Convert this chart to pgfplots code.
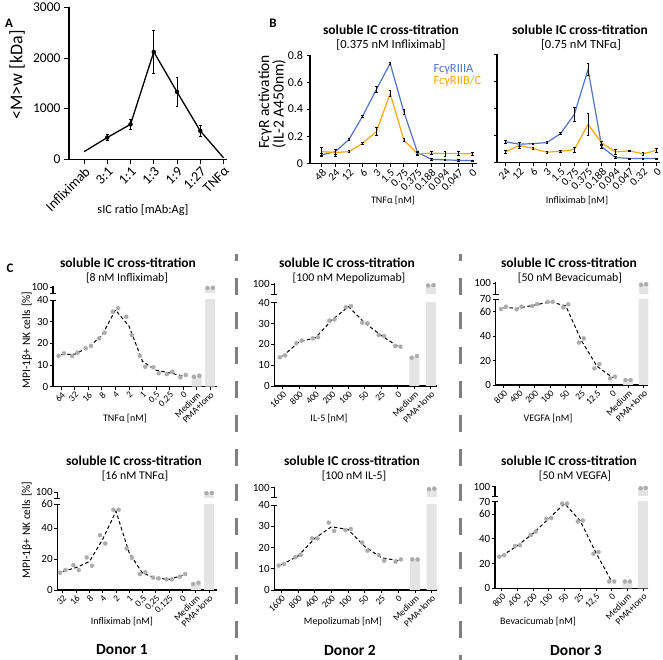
\documentclass[border=0pt]{standalone}
\usepackage{fontspec}
\setmainfont{Carlito}
\usepackage{pgfplots}
\pgfplotsset{compat=1.18}

\definecolor{fcblue}{RGB}{79,116,201}
\definecolor{fcorange}{RGB}{250,168,0}
\definecolor{dotgray}{RGB}{172,172,172}
\definecolor{bargray}{RGB}{228,228,228}
\definecolor{sepgray}{RGB}{128,128,128}
\newcommand\fs[1]{\fontsize{#1}{#1}\selectfont}

\pgfplotsset{
  panel/.style={scale only axis, anchor=south west, axis lines*=left,
    axis line style={line width=1.3pt}, tick style={black, line width=0.9pt},
    major tick length=3.5pt, tick align=outside,
    /pgf/number format/assume math mode=true, scaled ticks=false,
    x tick label style={rotate=45, anchor=north east, inner sep=1pt}},
  cpanel/.style={panel, ymin=0, major tick length=3pt,
    x tick label style={font=\fs{9.3}},
    y tick label style={font=\fs{11}, inner sep=1.5pt}},
  topbreak/.style={extra y ticks={#1}, extra y tick labels={},
    extra y tick style={tick align=center, major tick length=6pt}},
  upper/.style={scale only axis, anchor=south west, axis y line*=left, axis x line=none,
    axis line style={line width=1.3pt}, tick style={black, line width=0.9pt},
    major tick length=3pt, tick align=outside,
    ymin=90, ymax=101, ytick={100}, xtick=\empty,
    y tick label style={font=\fs{11}, inner sep=1.5pt},
    /pgf/number format/assume math mode=true,
    extra y ticks={90}, extra y tick labels={},
    extra y tick style={tick align=center, major tick length=6pt}},
  dots/.style={only marks, mark=*, mark size=2pt, dotgray, mark options={draw=none, fill=dotgray}},
  means/.style={black, line width=1pt, dash pattern=on 3.5pt off 2.5pt, mark=none},
  bars/.style={ybar, bar width=10pt, bar shift=0pt, fill=bargray, draw=none},
  ebar/.style={error bars/.cd, y dir=both, y explicit,
    error bar style={black, line width=0.6pt},
    error mark options={black, rotate=90, mark size=1.3pt, line width=0.6pt}},
}

\begin{document}
\begin{tikzpicture}
\useasboundingbox (0pt,0pt) rectangle (663pt,660pt);

% ---------------- A ----------------
\begin{axis}[panel, at={(69pt,500.7pt)}, width=158pt, height=152pt,
  xmin=-0.647, xmax=6.15, ymin=0, ymax=3000,
  ytick={0,1000,2000,3000}, yticklabels={0,1000,2000,3000},
  xtick={0,...,6}, xticklabels={Infliximab,3:1,1:1,1:3,1:9,1:27,TNFα},
  y tick label style={font=\fs{13.5}}, x tick label style={font=\fs{14}},
  major tick length=5pt]
\addplot[black, line width=1.3pt, mark=none] coordinates {
  (0,150) (1,430) (2,690) (3,2120) (4,1330) (5,560) (6,30)};
\addplot[only marks, mark=none, ebar] coordinates {
  (1,430) +- (0,65) (2,690) +- (0,100) (3,2120) +- (0,430)
  (4,1330) +- (0,285) (5,560) +- (0,110)};
\end{axis}

% ---------------- B left ----------------
\begin{axis}[panel, at={(310pt,496.7pt)}, width=167pt, height=108.3pt,
  xmin=-0.85, xmax=11.34, ymin=0, ymax=0.8,
  ytick={0,0.2,0.4,0.6,0.8}, yticklabels={0,0.2,0.4,0.6,0.8},
  xtick={0,...,11}, xticklabels={48,24,12,6,3,1.5,0.75,0.375,0.188,0.094,0.047,0},
  y tick label style={font=\fs{12}}, x tick label style={font=\fs{11}}]
\addplot[fcblue, line width=1.2pt, mark=none, ebar] coordinates {
  (0,0.062) +- (0,0.012) (1,0.086) +- (0,0.02) (2,0.177) +- (0,0.008)
  (3,0.35) +- (0,0.008) (4,0.547) +- (0,0.025) (5,0.738) +- (0,0.005)
  (6,0.38) +- (0,0.02) (7,0.08) +- (0,0.012) (8,0.03) +- (0,0.005)
  (9,0.025) +- (0,0.005) (10,0.022) +- (0,0.004) (11,0.02) +- (0,0.004)};
\addplot[fcorange, line width=1.2pt, mark=none, ebar] coordinates {
  (0,0.086) +- (0,0.03) (1,0.08) +- (0,0.025) (2,0.086) +- (0,0.008)
  (3,0.148) +- (0,0.008) (4,0.234) +- (0,0.03) (5,0.517) +- (0,0.02)
  (6,0.172) +- (0,0.012) (7,0.07) +- (0,0.01) (8,0.075) +- (0,0.012)
  (9,0.072) +- (0,0.02) (10,0.072) +- (0,0.015) (11,0.07) +- (0,0.01)};
\end{axis}

% ---------------- B right ----------------
\begin{axis}[panel, at={(497pt,497.5pt)}, width=163pt, height=108.5pt,
  xmin=-0.63, xmax=11.24, ymin=0, ymax=0.8,
  ytick={0,0.2,0.4,0.6,0.8}, yticklabels={,,,,},
  xtick={0,...,11}, xticklabels={24,12,6,3,1.5,0.75,0.375,0.188,0.094,0.047,0.32,0},
  x tick label style={font=\fs{11}}]
\addplot[fcblue, line width=1.2pt, mark=none, ebar] coordinates {
  (0,0.152) +- (0,0.01) (1,0.135) +- (0,0.012) (2,0.139) +- (0,0.005)
  (3,0.147) +- (0,0.008) (4,0.213) +- (0,0.008) (5,0.355) +- (0,0.05)
  (6,0.685) +- (0,0.045) (7,0.115) +- (0,0.012) (8,0.037) +- (0,0.005)
  (9,0.03) +- (0,0.004) (10,0.03) +- (0,0.004) (11,0.03) +- (0,0.004)};
\addplot[fcorange, line width=1.2pt, mark=none, ebar] coordinates {
  (0,0.078) +- (0,0.012) (1,0.127) +- (0,0.02) (2,0.103) +- (0,0.006)
  (3,0.076) +- (0,0.008) (4,0.083) +- (0,0.006) (5,0.095) +- (0,0.02)
  (6,0.281) +- (0,0.08) (7,0.144) +- (0,0.012) (8,0.078) +- (0,0.02)
  (9,0.086) +- (0,0.005) (10,0.064) +- (0,0.008) (11,0.09) +- (0,0.018)};
\end{axis}

% ---------------- C1: TNFa titration, Donor 1 ----------------
\begin{axis}[cpanel, at={(53pt,273.3pt)}, width=163.7pt, height=86.7pt,
  xmin=-0.61, xmax=11.48, ymax=40, ytick={0,10,20,30,40}, topbreak=40,
  xtick={0,...,11}, xticklabels={64,32,16,8,4,2,1,{0,5},{0,25},0,Medium,PMA+Iono}]
\addplot[bars] coordinates {(10,4.85) (11,99)};
\addplot[means] coordinates {(0,14.8) (1,15.0) (2,18.2) (3,23.6) (4,35.4) (5,28.0) (6,11.7) (7,7.6) (8,6.4) (9,4.9)};
\addplot[dots] coordinates {(-0.2,14.2) (0.2,15.4) (0.8,14.2) (1.2,15.7) (1.8,17.7) (2.2,18.8)
  (2.8,22.3) (3.2,24.9) (3.8,34.6) (4.2,36.2) (4.8,32.3) (5.2,23.8) (5.8,14.2) (6.2,9.2)
  (6.8,9.0) (7.2,6.2) (7.8,5.8) (8.2,6.9) (8.8,4.3) (9.2,5.4) (9.8,4.6) (10.2,5.1)};
\end{axis}
\begin{axis}[upper, at={(53pt,366.5pt)}, width=163.7pt, height=7pt, xmin=-0.61, xmax=11.48]
\addplot[bars] coordinates {(11,99)};
\addplot[dots] coordinates {(10.8,98.5) (11.2,99)};
\end{axis}

% ---------------- C2: IL-5 titration, Donor 2 ----------------
\begin{axis}[cpanel, at={(274.3pt,274pt)}, width=162.4pt, height=83.3pt,
  xmin=-0.5, xmax=9.36, ymax=40, ytick={0,10,20,30,40}, topbreak=40,
  xtick={0,...,9}, xticklabels={1600,800,400,200,100,50,25,0,Medium,PMA+Iono}]
\addplot[bars] coordinates {(8,14) (9,99)};
\addplot[means] coordinates {(0,14.25) (1,21.15) (2,23.15) (3,31.7) (4,38.1) (5,30.25) (6,24.25) (7,19.05)};
\addplot[dots] coordinates {(-0.16,13.8) (0.16,14.7) (0.84,20.5) (1.16,21.8) (1.84,22.9) (2.16,23.4)
  (2.84,31.4) (3.16,32) (3.84,37.8) (4.16,38.4) (4.84,30.4) (5.16,30.1) (5.84,24.5) (6.16,24)
  (6.84,19.2) (7.16,18.9) (7.84,13.6) (8.16,14.4)};
\end{axis}
\begin{axis}[upper, at={(274.3pt,366pt)}, width=162.4pt, height=11pt, xmin=-0.5, xmax=9.36]
\addplot[bars] coordinates {(9,99)};
\addplot[dots] coordinates {(8.84,98.5) (9.16,99)};
\end{axis}

% ---------------- C3: VEGFA titration, Donor 3 ----------------
\begin{axis}[cpanel, at={(495.7pt,275pt)}, width=152.6pt, height=85.7pt,
  xmin=-0.5, xmax=9.3, ymax=70, ytick={0,20,40,60,70}, topbreak=70,
  xtick={0,...,9}, xticklabels={800,400,200,100,50,25,{12,5},0,Medium,PMA+Iono}]
\addplot[bars] coordinates {(8,4.1) (9,99)};
\addplot[means] coordinates {(0,62.95) (1,62.85) (2,65.3) (3,67.9) (4,64.65) (5,36.35) (6,15.35) (7,6.1)};
\addplot[dots] coordinates {(-0.16,62) (0.16,63.9) (0.84,61.8) (1.16,63.9) (1.84,64.5) (2.16,66.1)
  (2.84,67.8) (3.16,68) (3.84,63.4) (4.16,65.9) (4.84,34.6) (5.16,38.1) (5.84,13.6) (6.16,17.1)
  (6.84,5.4) (7.16,6.8) (7.84,4.1) (8.16,4.1)};
\end{axis}
\begin{axis}[upper, at={(495.7pt,366pt)}, width=152.6pt, height=12pt, xmin=-0.5, xmax=9.3]
\addplot[bars] coordinates {(9,99)};
\addplot[dots] coordinates {(8.84,98.5) (9.16,99)};
\end{axis}

% ---------------- C4: Infliximab titration, Donor 1 ----------------
\begin{axis}[cpanel, at={(57.3pt,70pt)}, width=159.4pt, height=85.7pt,
  xmin=-0.41, xmax=11.57, ymax=55.5, ytick={0,20,40,55.5}, yticklabels={0,20,40,60}, topbreak=55.5,
  xtick={0,...,11}, xticklabels={32,16,8,4,2,1,{0,5},{0,25},{0,125},0,Medium,PMA+Iono}]
\addplot[bars] coordinates {(10,4.3) (11,99)};
\addplot[means] coordinates {(0,12.05) (1,14.5) (2,18.4) (3,32.8) (4,51) (5,23.9) (6,10.85) (7,7.75) (8,6.9) (9,9.45)};
\addplot[dots] coordinates {(-0.2,11.2) (0.2,12.9) (0.8,16.1) (1.2,12.9) (1.8,21.1) (2.2,15.7)
  (2.8,35.5) (3.2,30.1) (3.8,52) (4.2,52) (4.8,26.9) (5.2,20.9) (5.8,10.3) (6.2,11.4)
  (6.8,8) (7.2,7.5) (7.8,6.9) (8.2,6.9) (8.8,8.6) (9.2,10.3) (9.8,3.9) (10.2,4.7)};
\end{axis}
\begin{axis}[upper, at={(57.3pt,161.7pt)}, width=159.4pt, height=6.6pt, xmin=-0.41, xmax=11.57]
\addplot[bars] coordinates {(11,99)};
\addplot[dots] coordinates {(10.8,98.5) (11.2,99)};
\end{axis}

% ---------------- C5: Mepolizumab titration, Donor 2 ----------------
\begin{axis}[cpanel, at={(274.3pt,70pt)}, width=162.7pt, height=85pt,
  xmin=-0.42, xmax=9.32, ymax=40, ytick={0,10,20,30,40}, topbreak=40,
  xtick={0,...,9}, xticklabels={1600,800,400,200,100,50,25,0,Medium,PMA+Iono}]
\addplot[bars] coordinates {(8,14.4) (9,99)};
\addplot[means] coordinates {(0,11.85) (1,15.95) (2,24.3) (3,29.75) (4,28.45) (5,20.4) (6,15.15) (7,13.85)};
\addplot[dots] coordinates {(-0.16,11.5) (0.16,12.2) (0.84,15.4) (1.16,16.5) (1.84,24.3) (2.16,24.3)
  (2.84,31.7) (3.16,27.8) (3.84,28.2) (4.16,28.7) (4.84,22.3) (5.16,18.5) (5.84,16.5) (6.16,13.8)
  (6.84,13.3) (7.16,14.4) (7.84,14.4) (8.16,14.4)};
\end{axis}
\begin{axis}[upper, at={(274.3pt,162.7pt)}, width=162.7pt, height=10.6pt, xmin=-0.42, xmax=9.32]
\addplot[bars] coordinates {(9,99)};
\addplot[dots] coordinates {(8.84,98.5) (9.16,99)};
\end{axis}

% ---------------- C6: Bevacizumab titration, Donor 3 ----------------
\begin{axis}[cpanel, at={(495pt,71.7pt)}, width=153.3pt, height=86.6pt,
  xmin=-0.43, xmax=9.33, ymax=70, ytick={0,20,40,60,70}, topbreak=70,
  xtick={0,...,9}, xticklabels={800,400,200,100,50,25,{12,5},0,Medium,PMA+Iono}]
\addplot[bars] coordinates {(8,5.5) (9,99)};
\addplot[means] coordinates {(0,26.15) (1,34.5) (2,44.4) (3,56.45) (4,68.5) (5,54.4) (6,28.6) (7,5.5)};
\addplot[dots] coordinates {(-0.16,25.5) (0.16,26.8) (0.84,34.2) (1.16,34.8) (1.84,43) (2.16,45.8)
  (2.84,56.2) (3.16,56.7) (3.84,68.5) (4.16,68.5) (4.84,54) (5.16,54.8) (5.84,27.9) (6.16,29.3)
  (6.84,5.5) (7.16,5.5) (7.84,5.5) (8.16,5.5)};
\end{axis}
\begin{axis}[upper, at={(495pt,164pt)}, width=153.3pt, height=10pt, xmin=-0.43, xmax=9.33]
\addplot[bars] coordinates {(9,99)};
\addplot[dots] coordinates {(8.84,98.5) (9.16,99)};
\end{axis}

% ---------------- separators ----------------
\begin{scope}
\clip (0pt,0pt) rectangle (663pt,405pt);
\draw[sepgray, line width=2.7pt, dash pattern=on 17pt off 17.3pt] (236.7pt,416.3pt) -- (236.7pt,0pt);
\draw[sepgray, line width=2.7pt, dash pattern=on 17pt off 17.3pt] (460.7pt,416.3pt) -- (460.7pt,0pt);
\end{scope}

% ---------------- texts ----------------
\node[font=\fs{13}\bfseries] at (9pt,637pt) {A};
\node[font=\fs{13}\bfseries] at (273pt,637pt) {B};
\node[font=\fs{13}\bfseries] at (10pt,391.7pt) {C};

\node[rotate=90, font=\fs{18}] at (17pt,585pt) {<M>w [kDa]};
\node[font=\fs{12.4}] at (143pt,450pt) {sIC ratio [mAb:Ag]};

\node[rotate=90, font=\fs{15.5}] at (265pt,558pt) {FcγR activation};
\node[rotate=90, font=\fs{15.5}] at (279pt,556pt) {(IL-2 A450nm)};
\node[font=\fs{13.5}\bfseries] at (391pt,630.5pt) {soluble IC cross-titration};
\node[font=\fs{12.5}] at (391pt,615pt) {[0.375 nM Infliximab]};
\node[font=\fs{13.5}\bfseries] at (580pt,630.5pt) {soluble IC cross-titration};
\node[font=\fs{12.5}] at (581pt,615pt) {[0.75 nM TNFα]};
\node[anchor=west, font=\fs{12.5}, text=fcblue] at (430pt,590pt) {FcγRIIIA};
\node[anchor=west, font=\fs{12.5}, text=fcorange] at (430pt,579pt) {FcγRIIB/C};
\node[font=\fs{10}] at (393pt,459pt) {TNFα [nM]};
\node[font=\fs{10}] at (577pt,459pt) {Infliximab [nM]};

\node[font=\fs{13.5}\bfseries] at (128pt,397pt) {soluble IC cross-titration};
\node[font=\fs{11.8}] at (127pt,382pt) {[8 nM Infliximab]};
\node[font=\fs{13.5}\bfseries] at (347pt,397pt) {soluble IC cross-titration};
\node[font=\fs{11.8}] at (349pt,382pt) {[100 nM Mepolizumab]};
\node[font=\fs{13.5}\bfseries] at (569pt,397pt) {soluble IC cross-titration};
\node[font=\fs{11.8}] at (570pt,382pt) {[50 nM Bevacicumab]};

\node[font=\fs{13.5}\bfseries] at (134pt,199pt) {soluble IC cross-titration};
\node[font=\fs{11.8}] at (135pt,184pt) {[16 nM TNFα]};
\node[font=\fs{13.5}\bfseries] at (352pt,199pt) {soluble IC cross-titration};
\node[font=\fs{11.8}] at (354pt,184pt) {[100 nM IL-5]};
\node[font=\fs{13.5}\bfseries] at (569pt,199pt) {soluble IC cross-titration};
\node[font=\fs{11.8}] at (575pt,184pt) {[50 nM VEGFA]};

\node[rotate=90, font=\fs{11.5}] at (27pt,320pt) {MPI-1β+ NK cells [\%]};
\node[rotate=90, font=\fs{11.5}] at (27pt,130pt) {MPI-1β+ NK cells [\%]};

\node[font=\fs{10}] at (125pt,241pt) {TNFα [nM]};
\node[font=\fs{10}] at (329pt,241pt) {IL-5 [nM]};
\node[font=\fs{10}] at (548pt,241pt) {VEGFA [nM]};
\node[font=\fs{10}] at (122pt,38pt) {Infliximab [nM]};
\node[font=\fs{10}] at (343pt,38pt) {Mepolizumab [nM]};
\node[font=\fs{10}] at (538pt,38pt) {Bevacicumab [nM]};

\node[font=\fs{15.5}\bfseries] at (122pt,10pt) {Donor 1};
\node[font=\fs{15.5}\bfseries] at (350pt,10pt) {Donor 2};
\node[font=\fs{15.5}\bfseries] at (576pt,10pt) {Donor 3};
\end{tikzpicture}
\end{document}
